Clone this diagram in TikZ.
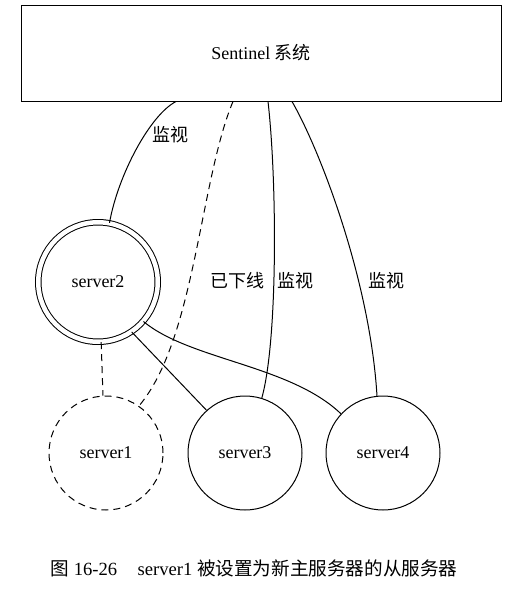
\documentclass[tikz,border=0pt]{standalone}
\usepackage{fontspec}
\setmainfont{Liberation Serif}
\newfontfamily\cjk{Noto Sans CJK SC}
\usetikzlibrary{calc}
\begin{document}
\begin{tikzpicture}[x=1pt,y=-1pt,
  every node/.style={font=\fontsize{18}{21}\selectfont},
  line width=1pt,
  srv/.style={circle,draw,minimum size=114pt,inner sep=0pt},
  dsh/.style={dash pattern=on 7pt off 5pt}]
\useasboundingbox (0,0) rectangle (507,589);
\node[draw,minimum width=480pt,minimum height=96pt,inner sep=0pt] (sys) at (261,53) {Sentinel {\cjk 系统}};
\node[srv,double,double distance=4.5pt,minimum size=119.5pt] (s2) at (98,282) {server2};
\node[srv,dsh] (s1) at (106,453) {server1};
\node[srv] (s3) at (245,453) {server3};
\node[srv] (s4) at (383,453) {server4};
\coordinate (a1) at ([xshift=-85pt]sys.south);
\coordinate (a2) at ([xshift=-28pt]sys.south);
\coordinate (a3) at ([xshift=7pt]sys.south);
\coordinate (a4) at ([xshift=31pt]sys.south);
\draw (a1) .. controls (150,115) and (118,175) .. (s2.79);
\draw[dsh] (a2) .. controls (200,180) and (195,340) .. (s1.55);
\draw (a3) .. controls (277,180) and (278,340) .. (s3.73);
\draw (a4) .. controls (320,150) and (370,280) .. (s4.96);
\draw[dsh] (s2.273) -- (s1.93);
\draw (s2.304) -- (s3.132);
\draw (s2.319) .. controls (190,360) and (290,365) .. (s4.137);
\node (l1) at (170,135) {\cjk 监视};
\node (l2) at (237,281) {\cjk 已下线};
\node (l3) at (295,281) {\cjk 监视};
\node (l4) at (386,281) {\cjk 监视};
\node[font=\fontsize{18.6}{22}\selectfont] (cap) at (254,568) {{\cjk 图} 16-26\hspace{1.1em}server1 {\cjk 被设置为新主服务器的从服务器}};
\end{tikzpicture}
\end{document}
